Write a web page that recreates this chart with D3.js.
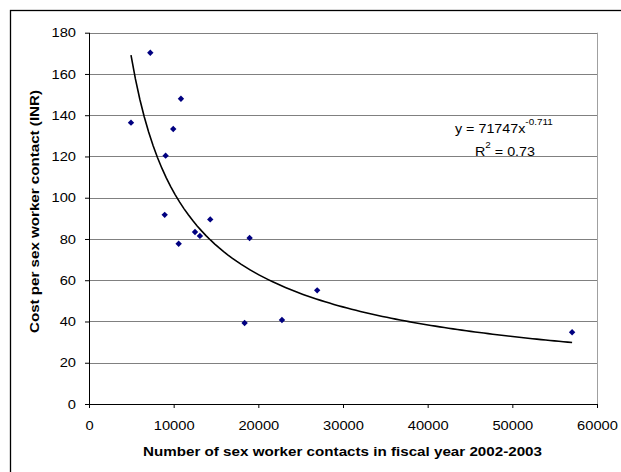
<!DOCTYPE html>
<html>
<head>
<meta charset="utf-8">
<script src="https://cdn.jsdelivr.net/npm/d3@7"></script>
<style>
  html, body { margin: 0; padding: 0; background: #fff; }
  svg { display: block; font-family: "Liberation Sans", Arial, sans-serif; }
</style>
</head>
<body>
<svg id="chart"></svg>
<script>
// data
var contacts = [4960, 7240, 8940, 9050, 9950, 10590, 10860, 12520, 13100, 14320, 18380, 18970, 22790, 26950, 57060];
var costs    = [136.4, 170.3, 91.7, 120.4, 133.3, 77.7, 148.0, 83.4, 81.5, 89.5, 39.3, 80.5, 40.7, 55.1, 34.8];
var xTicks = [0, 10000, 20000, 30000, 40000, 50000, 60000];
var yTicks = [0, 20, 40, 60, 80, 100, 120, 140, 160, 180];

// power trendline given on the chart
var trendA = 71747, trendB = -0.711;
var trendLabel = "y = 71747x", trendExp = "-0.711", r2Label = "= 0.73";

var W = 621, H = 472;
var plotL = 89, plotR = 597, plotT = 32.7, plotB = 404;

// reference font runs wider than Liberation Sans, so stretch text a bit
function widen(sel, k) {
  sel.each(function() {
    var len = this.getComputedTextLength();
    d3.select(this).attr("textLength", len * k).attr("lengthAdjust", "spacingAndGlyphs");
  });
}

var svg = d3.select("#chart").attr("width", W).attr("height", H);

// chart area border (cropped at right/bottom)
svg.append("rect")
  .attr("x", 10.5).attr("y", 10.5)
  .attr("width", 640).attr("height", 500)
  .attr("fill", "#fff").attr("stroke", "#000").attr("stroke-width", 1.3);

var x = d3.scaleLinear().domain([0, 60000]).range([plotL, plotR]);
var y = d3.scaleLinear().domain([0, 180]).range([plotB, plotT]);

// gridlines
svg.append("g").selectAll("line")
  .data(yTicks.filter(function(d) { return d > 0; }))
  .enter().append("line")
  .attr("x1", plotL).attr("x2", plotR)
  .attr("y1", function(d) { return Math.round(y(d)) + 0.5; })
  .attr("y2", function(d) { return Math.round(y(d)) + 0.5; })
  .attr("stroke", "#808080").attr("stroke-width", 1);

// plot area right border
svg.append("line")
  .attr("x1", plotR + 0.5).attr("x2", plotR + 0.5)
  .attr("y1", plotT).attr("y2", plotB)
  .attr("stroke", "#a0a0a0").attr("stroke-width", 1);

var yAxis = svg.append("g")
  .attr("transform", "translate(" + plotL + ",0)")
  .call(d3.axisLeft(y).tickValues(yTicks).tickSize(4).tickPadding(9).tickFormat(d3.format("d")));

var xAxis = svg.append("g")
  .attr("transform", "translate(0," + plotB + ")")
  .call(d3.axisBottom(x).tickValues(xTicks).tickSize(4).tickPadding(13).tickFormat(d3.format("d")));

[yAxis, xAxis].forEach(function(g) {
  g.selectAll("path").attr("stroke", "#000").attr("stroke-width", 1);
  g.selectAll("line").attr("stroke", "#000");
  g.selectAll("text").attr("font-size", "13px").attr("fill", "#000")
    .attr("font-family", "Liberation Sans, Arial, sans-serif");
  widen(g.selectAll("text"), 1.13);
});
yAxis.select(".domain").attr("d", "M0.5," + plotB + "V" + plotT);
xAxis.select(".domain").attr("d", "M" + plotL + ",0.5H" + plotR);

// trendline from the given equation
var xs = d3.range(0, 101).map(function(i) {
  return d3.min(contacts) + (d3.max(contacts) - d3.min(contacts)) * i / 100;
});
var line = d3.line()
  .x(function(d) { return x(d); })
  .y(function(d) { return y(trendA * Math.pow(d, trendB)); });
svg.append("path")
  .datum(xs)
  .attr("d", line)
  .attr("fill", "none").attr("stroke", "#000").attr("stroke-width", 1.6);

// markers
var diamond = d3.symbol().type(d3.symbolDiamond2).size(26);
svg.append("g").selectAll("path")
  .data(contacts.map(function(c, i) { return [c, costs[i]]; }))
  .enter().append("path")
  .attr("d", diamond)
  .attr("transform", function(d) { return "translate(" + x(d[0]) + "," + y(d[1]) + ")"; })
  .attr("fill", "#000080");

// equation
var eq = svg.append("text")
  .attr("x", 455).attr("y", 133).attr("font-size", "13px");
eq.append("tspan").text(trendLabel);
eq.append("tspan").attr("dy", -8).attr("font-size", "9px").text(trendExp);
widen(eq.selectAll("tspan"), 1.1);

var r2 = svg.append("text")
  .attr("x", 475).attr("y", 156).attr("font-size", "13px");
r2.append("tspan").text("R");
r2.append("tspan").attr("dy", -8).attr("font-size", "9px").text("2");
r2.append("tspan").attr("dy", 8).text(" " + r2Label);
widen(r2.selectAll("tspan"), 1.1);

// axis titles
var xTitle = svg.append("text")
  .attr("x", 342.5).attr("y", 456)
  .attr("text-anchor", "middle")
  .attr("font-size", "13px").attr("font-weight", "bold")
  .text("Number of sex worker contacts in fiscal year 2002-2003");
xTitle.attr("textLength", 399).attr("lengthAdjust", "spacingAndGlyphs");

var yTitle = svg.append("text")
  .attr("transform", "translate(38.5,211.5) rotate(-90)")
  .attr("text-anchor", "middle")
  .attr("font-size", "13px").attr("font-weight", "bold")
  .text("Cost per sex worker contact (INR)");
yTitle.attr("textLength", 243).attr("lengthAdjust", "spacingAndGlyphs");
</script>
</body>
</html>
